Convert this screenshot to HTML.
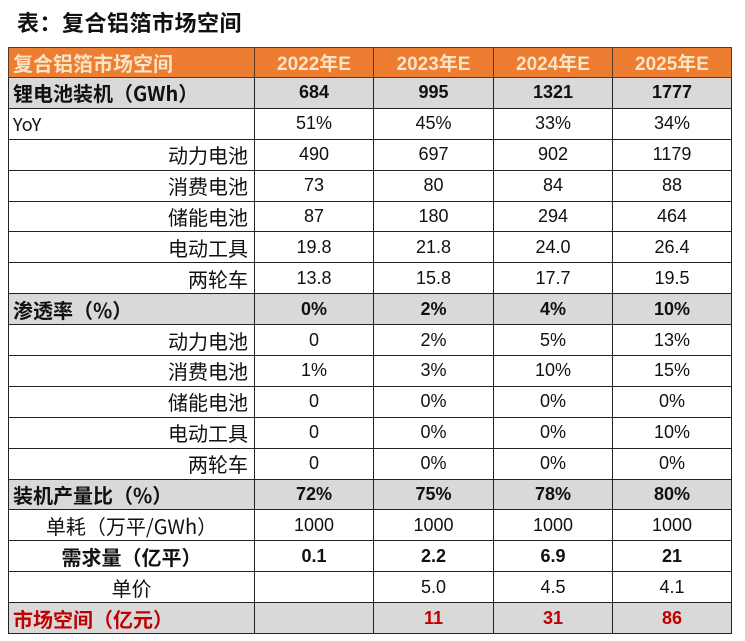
<!DOCTYPE html>
<html><head><meta charset="utf-8"><style>
body{margin:0;width:745px;height:641px;background:#fff;position:relative;overflow:hidden;font-family:"Liberation Sans","Noto Sans CJK SC",sans-serif;color:#111}
.title{position:absolute;left:17px;top:6px;font-size:22px;font-weight:bold;font-family:"Noto Sans CJK SC",sans-serif;letter-spacing:0.5px}
table{position:absolute;left:8px;top:47px;border-collapse:collapse;table-layout:fixed;width:723px}
td{height:29.9px;border:1.5px solid #222;padding:0;font-size:18px;text-align:center;white-space:nowrap;overflow:hidden}
tr.h td{background:#ed7d31;color:#fbe3c5;font-weight:bold;font-size:19px;border-color:#5a3a20;height:29px}
tr.g td{background:#d9d9d9;font-weight:bold}
td.l{text-align:left;padding-left:4px;font-family:"Noto Sans CJK SC",sans-serif}
td.r{text-align:right;padding-right:6px;font-size:20px;font-family:"Noto Sans CJK SC",sans-serif}
td.c{font-size:20px;font-family:"Noto Sans CJK SC",sans-serif}
tr.red td{color:#c00000}
b{font-weight:bold}
</style></head><body>
<div class="title">表：复合铝箔市场空间</div>
<table>
<colgroup><col style="width:246px"><col style="width:119px"><col style="width:120px"><col style="width:119px"><col style="width:119px"></colgroup>
<tr class="h"><td class="l" style="font-size:20px">复合铝箔市场空间</td><td>2022年E</td><td>2023年E</td><td>2024年E</td><td>2025年E</td></tr>
<tr class="g"><td class="l" style="font-size:20px">锂电池装机（GWh）</td><td>684</td><td>995</td><td>1321</td><td>1777</td></tr>
<tr><td class="l">YoY</td><td>51%</td><td>45%</td><td>33%</td><td>34%</td></tr>
<tr><td class="r">动力电池</td><td>490</td><td>697</td><td>902</td><td>1179</td></tr>
<tr><td class="r">消费电池</td><td>73</td><td>80</td><td>84</td><td>88</td></tr>
<tr><td class="r">储能电池</td><td>87</td><td>180</td><td>294</td><td>464</td></tr>
<tr><td class="r">电动工具</td><td>19.8</td><td>21.8</td><td>24.0</td><td>26.4</td></tr>
<tr><td class="r">两轮车</td><td>13.8</td><td>15.8</td><td>17.7</td><td>19.5</td></tr>
<tr class="g"><td class="l" style="font-size:20px">渗透率（%）</td><td>0%</td><td>2%</td><td>4%</td><td>10%</td></tr>
<tr><td class="r">动力电池</td><td>0</td><td>2%</td><td>5%</td><td>13%</td></tr>
<tr><td class="r">消费电池</td><td>1%</td><td>3%</td><td>10%</td><td>15%</td></tr>
<tr><td class="r">储能电池</td><td>0</td><td>0%</td><td>0%</td><td>0%</td></tr>
<tr><td class="r">电动工具</td><td>0</td><td>0%</td><td>0%</td><td>10%</td></tr>
<tr><td class="r">两轮车</td><td>0</td><td>0%</td><td>0%</td><td>0%</td></tr>
<tr class="g"><td class="l" style="font-size:20px">装机产量比（%）</td><td>72%</td><td>75%</td><td>78%</td><td>80%</td></tr>
<tr><td class="c">单耗（万平/GWh）</td><td>1000</td><td>1000</td><td>1000</td><td>1000</td></tr>
<tr><td class="c" style="font-weight:bold">需求量（亿平）</td><td><b>0.1</b></td><td><b>2.2</b></td><td><b>6.9</b></td><td><b>21</b></td></tr>
<tr><td class="c">单价</td><td></td><td>5.0</td><td>4.5</td><td>4.1</td></tr>
<tr class="g red"><td class="l" style="font-size:20px">市场空间（亿元）</td><td></td><td>11</td><td>31</td><td>86</td></tr>
</table>
</body></html>
